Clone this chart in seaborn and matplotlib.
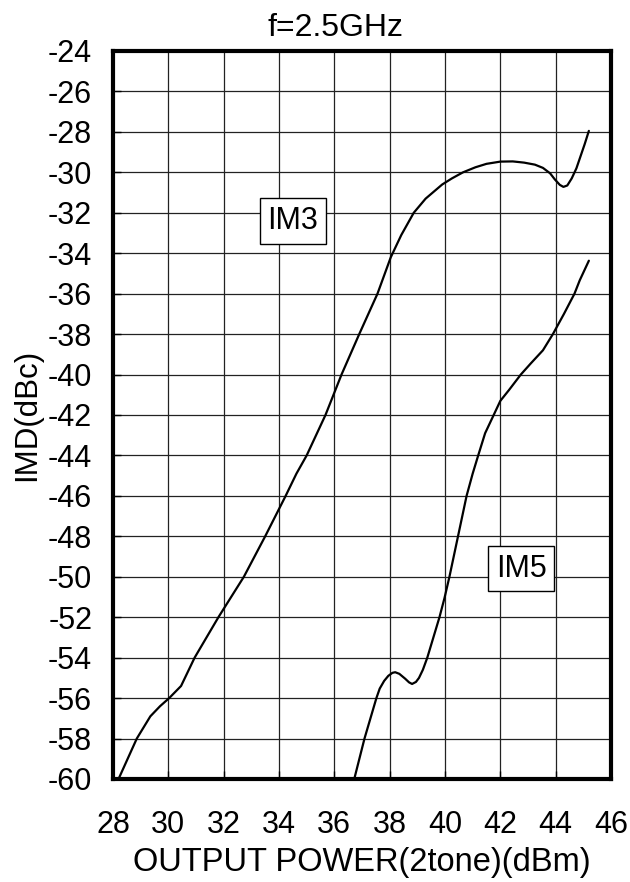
import matplotlib
matplotlib.use("Agg")
import matplotlib.pyplot as plt
import seaborn as sns
import pandas as pd

sns.set_theme(style="white")
plt.rcParams['font.family'] = ['Liberation Sans', 'DejaVu Sans']
plt.rcParams['axes.unicode_minus'] = False

x_ticks = [28, 30, 32, 34, 36, 38, 40, 42, 44, 46]
y_ticks = list(range(-60, -23, 2))

im3_x = [28.2, 28.86, 29.35, 29.7, 30.03, 30.46, 30.95, 31.81, 32.73, 33.5, 34.24, 34.63,
         35.0, 35.68, 36.26, 36.9, 37.56, 37.8, 38.04, 38.42, 38.87, 39.3, 39.9, 40.25,
         40.65, 41.1, 41.5, 42.0, 42.45, 42.86, 43.25, 43.54, 43.8, 43.97, 44.15, 44.28,
         44.42, 44.58, 44.75, 44.9, 45.05, 45.2]
im3_y = [-60, -58, -56.9, -56.4, -56, -55.4, -54, -52, -50, -48, -46, -44.9,
         -44, -42, -40, -38, -36, -35.1, -34.2, -33.1, -32, -31.3, -30.6, -30.3,
         -30, -29.75, -29.58, -29.47, -29.46, -29.52, -29.62, -29.78, -30.05, -30.35, -30.62, -30.72,
         -30.65, -30.3, -29.8, -29.2, -28.6, -27.95]

im5_x = [36.72, 37.09, 37.52, 37.64, 37.8, 37.95, 38.1, 38.2, 38.35, 38.56, 38.7, 38.81,
         38.95, 39.06, 39.2, 39.36, 39.8, 39.98, 40.16, 40.47, 40.78, 41.0, 41.2, 41.45,
         41.76, 42.0, 42.31, 42.74, 43.1, 43.54, 43.9, 44.3, 44.68, 44.87, 45.2]
im5_y = [-60, -58, -56, -55.53, -55.15, -54.9, -54.75, -54.72, -54.8, -55.04, -55.22, -55.3,
         -55.2, -55.0, -54.6, -54, -52, -51.06, -50, -48, -46, -44.9, -44, -42.9,
         -42, -41.3, -40.77, -40, -39.45, -38.8, -38, -37, -36, -35.34, -34.37]

labels = ["IM3", "IM5"]
label_pos = [(34.5, -32.4), (42.75, -49.6)]

fig = plt.figure(figsize=(6.3, 8.82), dpi=100)
ax = fig.add_axes([113 / 630, 1 - 779 / 882, (611 - 113) / 630, (779 - 51) / 882])

df3 = pd.DataFrame({"x": im3_x, "y": im3_y})
df5 = pd.DataFrame({"x": im5_x, "y": im5_y})
sns.lineplot(data=df3, x="x", y="y", sort=False, color="black", lw=1.6, ax=ax,
             solid_joinstyle="round")
sns.lineplot(data=df5, x="x", y="y", sort=False, color="black", lw=1.6, ax=ax,
             solid_joinstyle="round")

ax.set_xlim(28, 46)
ax.set_ylim(-60, -24)
ax.set_xticks(x_ticks)
ax.set_yticks(y_ticks)
ax.grid(True, color="#222222", lw=0.9)
ax.set_axisbelow(True)
for s in ax.spines.values():
    s.set_color("black")
    s.set_linewidth(3)
ax.tick_params(axis="both", direction="in", length=6, width=1, colors="black",
               labelsize=22, left=True, bottom=True)
ax.tick_params(axis="y", pad=15)
ax.tick_params(axis="x", pad=22)
ax.set_xlabel("OUTPUT POWER(2tone)(dBm)", fontsize=23.5, color="black", labelpad=5)
ax.set_ylabel("IMD(dBc)", fontsize=22.5, color="black", labelpad=4)
ax.set_title("f=2.5GHz", fontsize=23, color="black", pad=11, x=0.447)

for lab, (lx, ly) in zip(labels, label_pos):
    ax.text(lx, ly, lab, fontsize=22, ha="center", va="center", color="black",
            bbox=dict(boxstyle="square,pad=0.25", fc="white", ec="black", lw=1))

fig.savefig("out.png", dpi=100)
